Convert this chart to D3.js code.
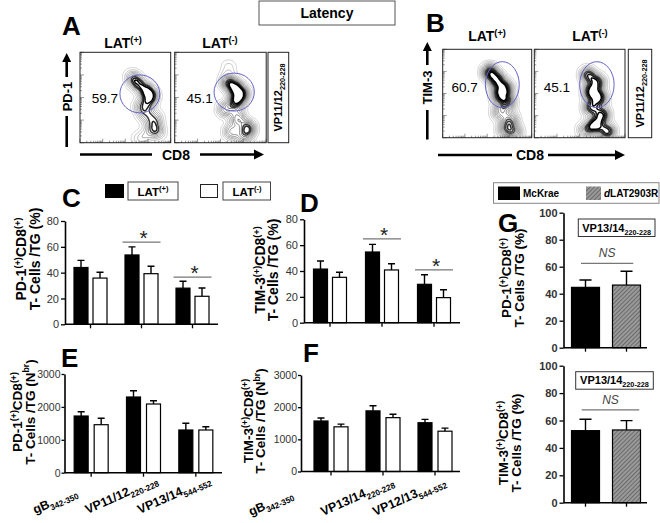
<!DOCTYPE html>
<html><head><meta charset="utf-8">
<script src="https://cdn.jsdelivr.net/npm/d3@7"></script>
<style>body{margin:0;background:#fff} svg{display:block;font-family:"Liberation Sans",Arial,Helvetica,sans-serif}</style>
</head><body><svg id="c" width="660" height="523"></svg>
<script>
// ---------------- DATA ----------------
const latSeries = ["LAT(+)", "LAT(-)"];
const virusSeries = ["McKrae", "LAT2903R"];
const epitopesE = ["gB", "VP11/12", "VP13/14"];
const epitopesF = ["gB", "VP13/14", "VP12/13"];
const epitopeSubs = ["342-350", "220-228", "544-552"];
const pctTicks = [0, 20, 40, 60, 80];
const nbrTicks = [0, 1000, 2000, 3000];
const gTicks = [0, 20, 40, 60, 80, 100];

// C: PD-1+ CD8+ (%)
const pd1PctPos = [44.0, 53.7, 28.0];
const pd1PctPosErr = [5.5, 6.3, 5.3];
const pd1PctNeg = [35.8, 39.2, 21.7];
const pd1PctNegErr = [4.5, 5.8, 6.4];
// D: TIM-3+ CD8+ (%)
const tim3PctPos = [41.5, 54.7, 29.7];
const tim3PctPosErr = [6.2, 5.9, 7.4];
const tim3PctNeg = [35.1, 40.8, 19.4];
const tim3PctNegErr = [3.9, 4.8, 6.1];
// E: PD-1+ CD8+ (number)
const pd1NbrPos = [1723, 2301, 1298];
const pd1NbrPosErr = [131, 191, 203];
const pd1NbrNeg = [1459, 2088, 1298];
const pd1NbrNegErr = [194, 100, 100];
// F: TIM-3+ CD8+ (number)
const tim3NbrPos = [1570, 1885, 1516];
const tim3NbrPosErr = [94, 157, 105];
const tim3NbrNeg = [1389, 1674, 1253];
const tim3NbrNegErr = [85, 105, 94];
// G: McKrae vs dLAT2903R (%)
const gPd1 = [44.7, 46.4];
const gPd1Err = [5.4, 10.2];
const gTim3 = [52.6, 53.1];
const gTim3Err = [8.3, 6.8];
// significance brackets [group index, y value]
const sigC = [[1, 63.7], [2, 36.6]];
const sigD = [[1, 64.8], [2, 40.8]];
const nsG1 = 62.5, nsG2 = 67.7;

// Flow cytometry (0-100 display units): [x, y, weight]
const flowA1 = [[58,72,1],[64,65,1.2],[73,58,1.3],[79,52,1.2],[75,43,1],[66,40,0.8],[72,30,0.9],[83,27,1],[80,16,0.9],[86,12,0.8],[72,7,0.5],[64,4,0.4]];
const flowA2 = [[59,83,0.25],[58,67,0.8],[66,61,1],[73,54,1],[67,45,1.1],[55,37,0.7],[69,27,0.8],[80,16,1],[62,12,0.7],[76,5,0.6]];
const flowB1 = [[53,74,1.3],[61,65,1.3],[70,56,1.2],[64,48,1.2],[73,40,1],[64,29,0.8],[76,20,0.9],[70,9,0.8],[81,6,0.8]];
const flowB2 = [[59,71,0.9],[70,63,0.9],[62,52,1],[72,45,1],[62,34,0.9],[75,26,1],[67,14,1.1],[81,7,1],[56,9,0.6]];
const gatePct = ["59.7", "45.1", "60.7", "45.1"];
// gates [cx, cy, rx, ry] in display units
const gates = [[66,54,22,21],[65,56,22,21],[67,60,19,26],[69,60,19,26]];

// ---------------- HELPERS ----------------
const svg = d3.select("#c");
const defs = svg.append("defs");
const hatch = defs.append("pattern").attr("id","hatch").attr("patternUnits","userSpaceOnUse")
  .attr("width",3).attr("height",3).attr("patternTransform","rotate(45)");
hatch.append("rect").attr("width",3).attr("height",3).attr("fill","#9a9a9a");
hatch.append("line").attr("x1",0).attr("y1",0).attr("x2",0).attr("y2",3).attr("stroke","#4a4a4a").attr("stroke-width",1.2);

function rich(parent, x, y, parts, size, o = {}) {
  const t = parent.append("text").attr("x", x).attr("y", y).attr("font-size", size)
    .attr("font-weight", o.weight || "bold").attr("text-anchor", o.anchor || "middle")
    .attr("fill", o.fill || "#000");
  if (o.rotate != null) t.attr("transform", `rotate(${o.rotate},${x},${y})`);
  let shift = 0;
  parts.forEach(p => {
    const [s, k] = Array.isArray(p) ? p : [p, null];
    const target = k === "sup" ? -0.38 * size : k === "sub" ? 0.28 * size : 0;
    const ts = t.append("tspan").text(s).attr("dy", target - shift);
    shift = target;
    if (k === "sup" || k === "sub") ts.attr("font-size", size * 0.66);
    if (k === "i") ts.attr("font-style", "italic");
  });
  return t;
}
function letter(x, y, s) {
  svg.append("text").attr("x", x).attr("y", y).attr("font-size", 26).attr("font-weight", "bold").text(s);
}

function barPanel(p) {
  const g = svg.append("g");
  const y = d3.scaleLinear().domain([0, p.max]).range([p.yb, p.yt]);
  const x = d3.scaleBand().domain(d3.range(p.n)).range([p.bx0, p.bx1]);
  const inner = d3.scaleBand().domain(d3.range(p.series.length)).range([-p.half, p.half]).paddingInner(p.pad);
  const bw = inner.bandwidth();
  p.series.forEach((s, si) => {
    const cx = i => x(i) + x.bandwidth() / 2 + inner(si);
    g.selectAll(null).data(s.vals).join("rect")
      .attr("x", (d, i) => cx(i)).attr("y", d => y(d))
      .attr("width", bw).attr("height", d => y(0) - y(d))
      .attr("fill", s.fill).attr("stroke", "#000").attr("stroke-width", 1.2);
    g.selectAll(null).data(s.vals).join("path")
      .attr("d", (d, i) => {
        const c = cx(i) + bw / 2, t = y(d + s.errs[i]), cw = bw * p.cap / 2;
        return `M${c},${y(d)}V${t}M${c - cw},${t}H${c + cw}`;
      })
      .attr("stroke", "#000").attr("stroke-width", 1.4).attr("fill", "none");
  });
  const ya = g.append("g").attr("transform", `translate(${p.ax},0)`)
    .call(d3.axisLeft(y).tickValues(p.ticks).tickSize(p.tickSize || 4).tickSizeOuter(0)
      .tickPadding(p.tickPad != null ? p.tickPad : 2).tickFormat(d3.format("d")));
  ya.select(".domain").attr("stroke-width", 1.6);
  ya.selectAll(".tick line").attr("stroke-width", 1.3);
  ya.selectAll(".tick text").attr("font-size", p.tickFont || 11).attr("font-weight", p.boldTicks ? "bold" : "normal")
    .attr("fill", "#333").attr("font-family", '"Liberation Sans",Arial,sans-serif');
  g.append("line").attr("x1", p.ax).attr("x2", p.axEnd).attr("y1", y(0)).attr("y2", y(0))
    .attr("stroke", "#000").attr("stroke-width", 1.6);
  const tickXs = p.tickAtBars
    ? p.series.map((s, si) => x(0) + x.bandwidth() / 2 + inner(si) + bw / 2)
    : d3.range(p.n).map(i => x(i) + x.bandwidth() / 2);
  g.selectAll(null).data(tickXs).join("line")
    .attr("x1", d => d).attr("x2", d => d).attr("y1", y(0)).attr("y2", y(0) + 4)
    .attr("stroke", "#000").attr("stroke-width", 1.3);
  return { x, y, g, center: i => x(i) + x.bandwidth() / 2 };
}

function sigLines(panel, list) {
  list.forEach(([gi, v]) => {
    const c = panel.center(gi), yy = panel.y(v);
    svg.append("line").attr("x1", c - 19).attr("x2", c + 19).attr("y1", yy).attr("y2", yy)
      .attr("stroke", "#777").attr("stroke-width", 1.3);
    svg.append("text").attr("x", c + 2).attr("y", yy + 3).attr("text-anchor", "middle")
      .attr("font-size", 21).attr("fill", "#222").text("*");
  });
}

function flowPlot(o, pts, gate, pct, id) {
  const g = svg.append("g").attr("transform", `translate(${o.x},${o.y})`);
  const sx = d3.scaleLinear().domain([0, 100]).range([0, o.w]);
  const sy = d3.scaleLinear().domain([0, 100]).range([o.h, 0]);
  defs.append("clipPath").attr("id", id).append("rect").attr("width", o.w).attr("height", o.h);
  let cs = d3.contourDensity().x(d => sx(d[0])).y(d => sy(d[1])).weight(d => d[2])
    .size([Math.round(o.w), Math.round(o.h)]).bandwidth(5.2).cellSize(1).thresholds(16)(pts);
  cs = cs.slice(0, Math.round(cs.length * 0.78));
  const n = cs.length;
  const col = d3.scaleLinear().domain([0, n * 0.5, n - 1]).range(["#c4c4c4", "#6a6a6a", "#000"]);
  g.append("g").attr("clip-path", `url(#${id})`).selectAll("path").data(cs).join("path")
    .attr("d", d3.geoPath()).attr("fill", "none")
    .attr("stroke", (d, i) => col(i))
    .attr("stroke-width", (d, i) => i > n * 0.62 ? 1.5 : 0.75);
  // log-like minor ticks
  const lg = d3.scaleLog().domain([10, 100000]);
  const lx = lg.copy().range([0, o.w]), ly = lg.copy().range([o.h, 0]);
  const tv = lx.ticks();
  g.selectAll(null).data(tv).join("line").attr("x1", d => lx(d)).attr("x2", d => lx(d))
    .attr("y1", o.h).attr("y2", d => o.h - (Math.log10(d) % 1 === 0 ? 4 : 2)).attr("stroke", "#555").attr("stroke-width", 0.6);
  g.selectAll(null).data(tv).join("line").attr("y1", d => ly(d)).attr("y2", d => ly(d))
    .attr("x1", 0).attr("x2", d => (Math.log10(d) % 1 === 0 ? 4 : 2)).attr("stroke", "#555").attr("stroke-width", 0.6);
  g.append("rect").attr("width", o.w).attr("height", o.h).attr("fill", "none").attr("stroke", "#222").attr("stroke-width", 1);
  g.append("ellipse").attr("cx", sx(gate[0])).attr("cy", sy(gate[1]))
    .attr("rx", sx(gate[2])).attr("ry", o.h - sy(gate[3]))
    .attr("fill", "none").attr("stroke", "#6565c8").attr("stroke-width", 1);
  g.append("text").attr("x", sx(o.tx)).attr("y", sy(o.ty) + 5).attr("font-size", 13.5).text(pct);
}

function sideBox(x, y, w, h, parts) {
  svg.append("rect").attr("x", x).attr("y", y).attr("width", w).attr("height", h)
    .attr("fill", "none").attr("stroke", "#222").attr("stroke-width", 1);
  rich(svg, x + w / 2 + 4, y + h / 2, parts, 11, { rotate: -90 });
}
function vArrow(x, yTop, yTextTop, yTextBot, yBot, label) {
  svg.append("path").attr("d", `M${x},${yTop + 8}V${yTextTop - 3}`).attr("stroke", "#000").attr("stroke-width", 2.6);
  svg.append("path").attr("d", `M${x - 4.5},${yTop + 9}L${x},${yTop}L${x + 4.5},${yTop + 9}Z`).attr("fill", "#000");
  svg.append("path").attr("d", `M${x},${yTextBot + 3}V${yBot}`).attr("stroke", "#000").attr("stroke-width", 2.6);
  svg.append("text").attr("transform", `translate(${x + 5},${(yTextTop + yTextBot) / 2}) rotate(-90)`)
    .attr("text-anchor", "middle").attr("font-size", 13).attr("font-weight", "bold").text(label);
}
function hArrow(y, x0, x1, tx, x2, x3) {
  svg.append("path").attr("d", `M${x0},${y}H${x1}`).attr("stroke", "#000").attr("stroke-width", 2.6);
  svg.append("path").attr("d", `M${x2},${y}H${x3 - 8}`).attr("stroke", "#000").attr("stroke-width", 2.6);
  svg.append("path").attr("d", `M${x3 - 10},${y - 5}L${x3},${y}L${x3 - 10},${y + 5}Z`).attr("fill", "#000");
  svg.append("text").attr("x", tx).attr("y", y + 5).attr("text-anchor", "middle").attr("font-size", 14).attr("font-weight", "bold").text("CD8");
}

// ---------------- TOP: A & B ----------------
svg.append("rect").attr("x", 259).attr("y", 1).attr("width", 136).attr("height", 24)
  .attr("fill", "none").attr("stroke", "#555").attr("stroke-width", 1);
svg.append("text").attr("x", 327).attr("y", 18).attr("text-anchor", "middle").attr("font-size", 14).attr("font-weight", "bold").text("Latency");

letter(62, 35, "A");
rich(svg, 123, 48, ["LAT", ["(+)", "sup"]], 14);
rich(svg, 220, 48, ["LAT", ["(-)", "sup"]], 14);
flowPlot({ x: 80, y: 52.3, w: 90.7, h: 90.4, tx: 13, ty: 49 }, flowA1, gates[0], gatePct[0], "ca1");
flowPlot({ x: 174.7, y: 52.3, w: 91.5, h: 90.4, tx: 13, ty: 49 }, flowA2, gates[1], gatePct[1], "ca2");
sideBox(268, 52.3, 20.7, 90.4, ["VP11/12", ["220-228", "sub"]]);
vArrow(66.7, 53, 80, 113, 147, "PD-1");
hArrow(154.5, 80, 152, 176, 200, 264);

letter(426, 32, "B");
rich(svg, 487, 41, ["LAT", ["(+)", "sup"]], 14);
rich(svg, 590, 41, ["LAT", ["(-)", "sup"]], 14);
flowPlot({ x: 442.7, y: 49.3, w: 89, h: 88.4, tx: 10, ty: 57 }, flowB1, gates[2], gatePct[2], "cb1");
flowPlot({ x: 534.3, y: 49.3, w: 90.7, h: 88.4, tx: 10.5, ty: 57 }, flowB2, gates[3], gatePct[3], "cb2");
sideBox(628.3, 49.3, 23.4, 88.4, ["VP11/12", ["220-228", "sub"]]);
vArrow(427.3, 42, 68, 107, 139.5, "TIM-3");
hArrow(155, 438, 512, 530, 548, 625);

// ---------------- C ----------------
letter(62, 207, "C");
// legend
svg.append("rect").attr("x", 105).attr("y", 184).attr("width", 19).attr("height", 14).attr("fill", "#000");
svg.append("rect").attr("x", 128).attr("y", 182).attr("width", 50).attr("height", 18).attr("fill", "none").attr("stroke", "#444");
rich(svg, 153, 195.5, ["LAT", ["(+)", "sup"]], 11.5);
svg.append("rect").attr("x", 200.5).attr("y", 184.5).attr("width", 17).attr("height", 13).attr("fill", "#fff").attr("stroke", "#222");
svg.append("rect").attr("x", 223).attr("y", 182).attr("width", 47.5).attr("height", 18).attr("fill", "none").attr("stroke", "#444");
rich(svg, 247, 195.5, ["LAT", ["(-)", "sup"]], 11.5);

const pC = barPanel({ max: 80, yb: 324.3, yt: 221, ax: 65, axEnd: 218, bx0: 65, bx1: 218, n: 3, half: 16.5, pad: 5 / 19, cap: 0.5, ticks: pctTicks,
  series: [{ vals: pd1PctPos, errs: pd1PctPosErr, fill: "#000" }, { vals: pd1PctNeg, errs: pd1PctNegErr, fill: "#fff" }] });
sigLines(pC, sigC);
rich(svg, 26, 259, ["PD-1", ["(+)", "sup"], "CD8", ["(+)", "sup"]], 14, { rotate: -90 });
rich(svg, 40, 259, ["T- Cells /TG (%)"], 14, { rotate: -90 });

// ---------------- D ----------------
letter(300, 212, "D");
const pD = barPanel({ max: 80, yb: 322.7, yt: 219.3, ax: 304, axEnd: 460, bx0: 304, bx1: 460, n: 3, half: 16.5, pad: 5 / 19, cap: 0.5, ticks: pctTicks,
  series: [{ vals: tim3PctPos, errs: tim3PctPosErr, fill: "#000" }, { vals: tim3PctNeg, errs: tim3PctNegErr, fill: "#fff" }] });
sigLines(pD, sigD);
rich(svg, 265, 270, ["TIM-3", ["(+)", "sup"], "CD8", ["(+)", "sup"]], 14, { rotate: -90 });
rich(svg, 278, 270, ["T- Cells /TG (%)"], 14, { rotate: -90 });

// ---------------- E ----------------
letter(61, 367, "E");
const pE = barPanel({ max: 3000, yb: 472.7, yt: 374, ax: 64.5, axEnd: 222, bx0: 65, bx1: 222, n: 3, half: 17, pad: 6 / 20, cap: 0.5, ticks: nbrTicks,
  tickSize: 3, tickPad: 1, tickFont: 10.5,
  series: [{ vals: pd1NbrPos, errs: pd1NbrPosErr, fill: "#000" }, { vals: pd1NbrNeg, errs: pd1NbrNegErr, fill: "#fff" }] });
rich(svg, 22, 412, ["PD-1", ["(+)", "sup"], "CD8", ["(+)", "sup"]], 13.5, { rotate: -90 });
rich(svg, 34.5, 412, ["T- Cells /TG (N", ["br", "sup"], ")"], 13.5, { rotate: -90 });
epitopesE.forEach((e, i) => {
  const x = pE.center(i) - 56, y = 514;
  rich(svg, x, y, [e, [epitopeSubs[i], "sub"]], 12.5, { anchor: "start", rotate: -24 });
});

// ---------------- F ----------------
letter(303, 362, "F");
const pF = barPanel({ max: 3000, yb: 471.5, yt: 375, ax: 301, axEnd: 460, bx0: 305, bx1: 461, n: 3, half: 17, pad: 6 / 20, cap: 0.5, ticks: nbrTicks,
  tickSize: 3, tickPad: 1, tickFont: 10.5,
  series: [{ vals: tim3NbrPos, errs: tim3NbrPosErr, fill: "#000" }, { vals: tim3NbrNeg, errs: tim3NbrNegErr, fill: "#fff" }] });
rich(svg, 253, 421, ["TIM-3", ["(+)", "sup"], "CD8", ["(+)", "sup"]], 13.5, { rotate: -90 });
rich(svg, 265, 421, ["T- Cells /TG (N", ["br", "sup"], ")"], 13.5, { rotate: -90 });
epitopesF.forEach((e, i) => {
  const x = pF.center(i) - (i === 0 ? 80 : 60), y = 516;
  rich(svg, x, y, [e, [epitopeSubs[i], "sub"]], 12.5, { anchor: "start", rotate: -24 });
});

// ---------------- G ----------------
svg.append("rect").attr("x", 493.5).attr("y", 182.7).attr("width", 165.5).attr("height", 20.6).attr("fill", "none").attr("stroke", "#888");
svg.append("rect").attr("x", 498).attr("y", 186.5).attr("width", 22).attr("height", 13.5).attr("fill", "#000");
svg.append("text").attr("x", 523).attr("y", 197).attr("font-size", 10).attr("font-weight", "bold").text(virusSeries[0]);
svg.append("rect").attr("x", 586).attr("y", 186.5).attr("width", 15).attr("height", 13.5).attr("fill", "url(#hatch)");
rich(svg, 604, 197, [["d", "i"], virusSeries[1]], 10, { anchor: "start" });

letter(498, 232, "G");
const pG1 = barPanel({ max: 100, yb: 347.7, yt: 212.7, ax: 563.5, axEnd: 647, bx0: 563.5, bx1: 648.5, n: 1, half: 34.5, pad: 13 / 41, cap: 0.43, ticks: gTicks, boldTicks: true, tickAtBars: true,
  series: [{ vals: [gPd1[0]], errs: [gPd1Err[0]], fill: "#000" }, { vals: [gPd1[1]], errs: [gPd1Err[1]], fill: "url(#hatch)" }] });
const pG2 = barPanel({ max: 100, yb: 502.7, yt: 365.7, ax: 563.5, axEnd: 647, bx0: 563.5, bx1: 648.5, n: 1, half: 34.5, pad: 13 / 41, cap: 0.43, ticks: gTicks, boldTicks: true, tickAtBars: true,
  series: [{ vals: [gTim3[0]], errs: [gTim3Err[0]], fill: "#000" }, { vals: [gTim3[1]], errs: [gTim3Err[1]], fill: "url(#hatch)" }] });
[[pG1, nsG1, 581, 633.3, 219, 578.3, 655], [pG2, nsG2, 581.7, 639.3, 371.7, 575.7, 653.3]].forEach(([p, v, a, b, by, bx0, bx1]) => {
  const yy = p.y(v);
  svg.append("line").attr("x1", a).attr("x2", b).attr("y1", yy).attr("y2", yy).attr("stroke", "#777").attr("stroke-width", 1.2);
  svg.append("text").attr("x", (a + b) / 2).attr("y", yy - 6).attr("text-anchor", "middle").attr("font-size", 12)
    .attr("font-style", "italic").attr("fill", "#444").text("NS");
  svg.append("rect").attr("x", bx0).attr("y", by).attr("width", bx1 - bx0).attr("height", 17.5).attr("fill", "none").attr("stroke", "#333");
  rich(svg, (bx0 + bx1) / 2, by + 12.5, ["VP13/14", ["220-228", "sub"]], 11);
});
rich(svg, 511, 278, ["PD-1", ["(+)", "sup"], "CD8", ["(+)", "sup"]], 13.5, { rotate: -90 });
rich(svg, 524, 278, ["T- Cells /TG (%)"], 13.5, { rotate: -90 });
rich(svg, 508, 443, ["TIM-3", ["(+)", "sup"], "CD8", ["(+)", "sup"]], 13.5, { rotate: -90 });
rich(svg, 521, 443, ["T- Cells /TG (%)"], 13.5, { rotate: -90 });
</script></body></html>
